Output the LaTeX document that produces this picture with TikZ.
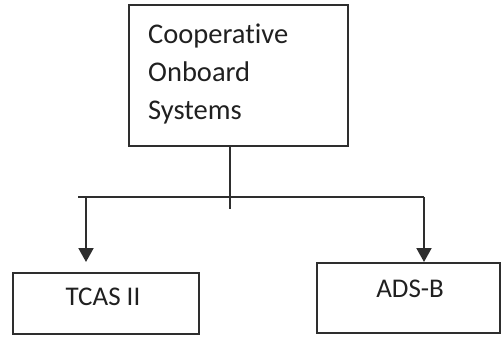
\documentclass[tikz,border=0pt]{standalone}
\usepackage{fontspec}
\setmainfont{Carlito}[Ligatures=NoCommon]
\usetikzlibrary{arrows.meta}
\definecolor{ink}{HTML}{2E2E2E}
\definecolor{txt}{HTML}{202020}
\tikzset{
  box/.style={draw=ink, line width=2pt, rectangle, inner sep=0pt, fill=white},
  lbl/.style={inner sep=0pt, text=txt, font=\fontsize{27}{38}\selectfont},
  wire/.style={draw=ink, line width=2pt},
  feed/.style={wire, -{Triangle[width=15pt,length=14pt]}},
}
\begin{document}
\begin{tikzpicture}[x=1pt,y=-1pt]
\useasboundingbox[fill=white] (0,0) rectangle (501,337);

% boxes
\node[box, minimum width=219pt, minimum height=141pt] (cos) at (238.5,75.5) {};
\node[box, minimum width=186pt, minimum height=61pt] (tcas) at (106,303.5) {};
\node[box, minimum width=183pt, minimum height=70pt] (ads) at (408.5,298) {};

% labels
\node[lbl, font=\fontsize{28.5}{38}\selectfont, anchor=north west, align=left] (cosText) at (148,24) {Cooperative\\Onboard\\Systems};
\node[lbl] (tcasText) at (103,297) {TCAS II};
\node[lbl] (adsText) at (410,288.5) {ADS-B};

% branching connector
\coordinate (stub) at (230,209);
\coordinate (hl) at (78,197);
\coordinate (lc) at (86,197);
\coordinate (rc) at (424,197);
\draw[wire] (cos.south -| stub) -- (stub);
\draw[wire] (hl) -- (rc);
\draw[feed, shorten >=10pt] (lc) -- (lc |- tcas.north);
\draw[feed] (rc) -- (rc |- ads.north);
\end{tikzpicture}
\end{document}
